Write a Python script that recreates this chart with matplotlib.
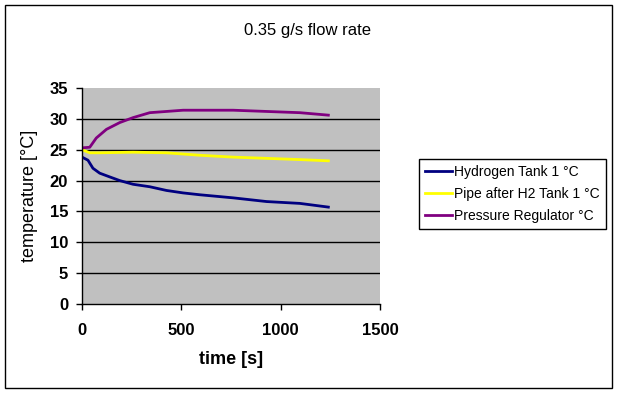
import matplotlib
matplotlib.use("Agg")
import matplotlib.pyplot as plt
from matplotlib.patches import Rectangle

title = "0.35 g/s flow rate"
xlabel = "time [s]"
ylabel = "temperature [°C]"

t_h2 = [0, 30, 55, 89, 139, 190, 257, 341, 425, 509, 593, 761, 929, 1097, 1240]
h2_tank = [23.8, 23.3, 22.0, 21.2, 20.6, 20.0, 19.4, 19.0, 18.4, 18.0, 17.7, 17.2, 16.6, 16.3, 15.7]

t_pipe = [0, 39, 89, 257, 425, 593, 761, 929, 1097, 1240]
pipe = [25.0, 24.5, 24.5, 24.6, 24.5, 24.1, 23.8, 23.6, 23.4, 23.2]

t_reg = [0, 39, 72, 123, 190, 257, 341, 425, 509, 761, 929, 1097, 1240]
regulator = [25.3, 25.4, 26.9, 28.3, 29.4, 30.2, 31.0, 31.2, 31.4, 31.4, 31.2, 31.0, 30.6]

labels = ["Hydrogen Tank 1 °C", "Pipe after H2 Tank 1 °C", "Pressure Regulator °C"]
colors = ["#000080", "#FFFF00", "#800080"]

plt.rcParams['font.family'] = ['Liberation Sans', 'DejaVu Sans']

W, H = 618, 393
fig = plt.figure(figsize=(W / 100, H / 100), dpi=100)
fig.patch.set_facecolor("white")

# outer frame
fig.patches.append(Rectangle((5 / W, 5 / H), 607 / W, 383 / H, transform=fig.transFigure,
                             fill=False, edgecolor="black", linewidth=1))

left, right, top, bottom = 82, 380, 88, 304
ax = fig.add_axes([left / W, 1 - bottom / H, (right - left) / W, (bottom - top) / H])
ax.set_facecolor("#C0C0C0")

for tx, ys, c, lab in zip([t_h2, t_pipe, t_reg], [h2_tank, pipe, regulator], colors, labels):
    ax.plot(tx, ys, color=c, linewidth=2, label=lab)

ax.set_xlim(0, 1500)
ax.set_ylim(0, 35)
ax.set_xticks([0, 500, 1000, 1500])
ax.set_yticks(range(0, 36, 5))
for yv in range(5, 35, 5):
    ax.axhline(yv, color="black", linewidth=1, zorder=1)

for s in ["top", "right"]:
    ax.spines[s].set_visible(False)
ax.spines["left"].set_linewidth(1)
ax.spines["bottom"].set_linewidth(1)
ax.tick_params(axis="both", direction="out", length=4, width=1, labelsize=12, pad=6)
ax.tick_params(axis="x", pad=10)
for lbl in ax.get_xticklabels() + ax.get_yticklabels():
    lbl.set_fontweight("bold")

ax.set_xlabel(xlabel, fontsize=13, labelpad=9, fontweight="bold")
ax.set_ylabel(ylabel, fontsize=13, labelpad=8)

fig.text(308 / W, 1 - 30 / H, title, ha="center", va="center", fontsize=12)

leg = fig.legend(loc="upper left", bbox_to_anchor=(419 / W, 1 - 159 / H), fontsize=10,
                 frameon=True, fancybox=False, edgecolor="black", framealpha=1,
                 handlelength=1.9, handletextpad=0.2, borderpad=0.45, labelspacing=0.55,
                 borderaxespad=0)
leg.get_frame().set_linewidth(1)

fig.savefig("out.png", dpi=100)
